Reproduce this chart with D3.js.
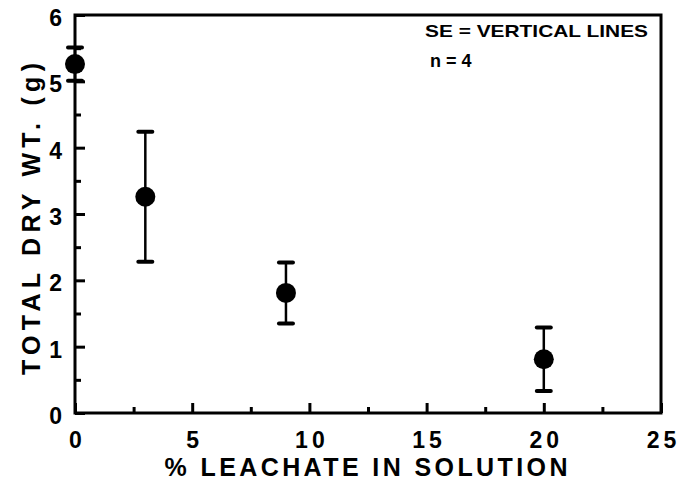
<!DOCTYPE html>
<html>
<head>
<meta charset="utf-8">
<script src="https://cdn.jsdelivr.net/npm/d3@7"></script>
<style>
  body { margin: 0; background: #fff; }
  svg { display: block; font-family: "Liberation Sans", Arial, sans-serif; font-weight: bold; }
</style>
</head>
<body>
<div id="chart"></div>
<script>
// data
const leachate = [0, 3, 9, 20];
const dryWt = [5.26, 3.26, 1.81, 0.81];
const se = [0.25, 0.98, 0.46, 0.48];

const xMajor = [0, 5, 10, 15, 20, 25];
const xMinor = [2.5, 7.5, 12.5, 17.5, 22.5];
const yMajor = [0, 1, 2, 3, 4, 5, 6];
const yMinor = [0.5, 1.5, 2.5, 3.5, 4.5, 5.5];

const width = 680;
const height = 489;
const plotL = 75, plotR = 661, plotT = 15, plotB = 413;

const svg = d3.select("#chart")
  .append("svg")
  .attr("width", width)
  .attr("height", height);

const x = d3.scaleLinear().domain([0, 25]).range([plotL, plotR]);
const y = d3.scaleLinear().domain([0, 6]).range([plotB, plotT]);

// x axis: major ticks + labels
const gx = svg.append("g")
  .attr("transform", `translate(0,${plotB})`)
  .call(d3.axisBottom(x).tickValues(xMajor).tickSize(-10).tickPadding(19).tickFormat(d3.format("d")));
gx.select(".domain").remove();
gx.selectAll("line").attr("stroke", "#000").attr("stroke-width", 3);
gx.selectAll("text")
  .attr("font-size", 23)
  .attr("font-family", "Liberation Sans, Arial, sans-serif")
  .attr("font-weight", "bold")
  .attr("fill", "#000")
  .attr("dx", 2)
  .style("letter-spacing", "4px");

const gxm = svg.append("g")
  .attr("transform", `translate(0,${plotB})`)
  .call(d3.axisBottom(x).tickValues(xMinor).tickSize(-6).tickFormat(""));
gxm.select(".domain").remove();
gxm.selectAll("line").attr("stroke", "#000").attr("stroke-width", 3);

// y axis
const gy = svg.append("g")
  .attr("transform", `translate(${plotL},0)`)
  .call(d3.axisLeft(y).tickValues(yMajor).tickSize(-10).tickPadding(13).tickFormat(d3.format("d")));
gy.select(".domain").remove();
gy.selectAll("line").attr("stroke", "#000").attr("stroke-width", 3);
gy.selectAll("text")
  .attr("font-size", 23)
  .attr("font-family", "Liberation Sans, Arial, sans-serif")
  .attr("font-weight", "bold")
  .attr("fill", "#000")
  .attr("dy", "0.45em");

const gym = svg.append("g")
  .attr("transform", `translate(${plotL},0)`)
  .call(d3.axisLeft(y).tickValues(yMinor).tickSize(-6).tickFormat(""));
gym.select(".domain").remove();
gym.selectAll("line").attr("stroke", "#000").attr("stroke-width", 3);

// frame
svg.append("rect")
  .attr("x", plotL)
  .attr("y", plotT)
  .attr("width", plotR - plotL)
  .attr("height", plotB - plotT)
  .attr("fill", "none")
  .attr("stroke", "#000")
  .attr("stroke-width", 3);

// error bars
const pts = leachate.map((d, i) => ({ x: d, y: dryWt[i], se: se[i] }));

svg.selectAll(".bar")
  .data(pts)
  .enter()
  .append("line")
  .attr("x1", d => x(d.x))
  .attr("x2", d => x(d.x))
  .attr("y1", d => y(d.y + d.se))
  .attr("y2", d => y(d.y - d.se))
  .attr("stroke", "#000")
  .attr("stroke-width", 2.5);

["top", "bot"].forEach(k => {
  svg.selectAll(".cap-" + k)
    .data(pts)
    .enter()
    .append("line")
    .attr("x1", d => x(d.x) - 7)
    .attr("x2", d => x(d.x) + 7)
    .attr("y1", d => y(k === "top" ? d.y + d.se : d.y - d.se))
    .attr("y2", d => y(k === "top" ? d.y + d.se : d.y - d.se))
    .attr("stroke", "#000")
    .attr("stroke-width", 4)
    .attr("stroke-linecap", "round");
});

svg.selectAll("circle")
  .data(pts)
  .enter()
  .append("circle")
  .attr("cx", d => x(d.x))
  .attr("cy", d => y(d.y))
  .attr("r", 10)
  .attr("fill", "#000");

// axis titles
svg.append("text")
  .attr("x", (plotL + plotR) / 2 - 2)
  .attr("y", 476)
  .attr("text-anchor", "middle")
  .attr("font-size", 25)
  .attr("textLength", 403)
  .attr("lengthAdjust", "spacing")
  .text("% LEACHATE IN SOLUTION");

svg.append("text")
  .attr("transform", "translate(40,219) rotate(-90)")
  .attr("text-anchor", "middle")
  .attr("font-size", 25)
  .attr("textLength", 312)
  .attr("lengthAdjust", "spacing")
  .text("TOTAL DRY WT. (g)");

// note
svg.append("text")
  .attr("x", 425)
  .attr("y", 37)
  .attr("font-size", 17)
  .attr("textLength", 223)
  .attr("lengthAdjust", "spacingAndGlyphs")
  .text("SE = VERTICAL LINES");

svg.append("text")
  .attr("x", 430)
  .attr("y", 67)
  .attr("font-size", 18)
  .text("n = 4");
</script>
</body>
</html>
